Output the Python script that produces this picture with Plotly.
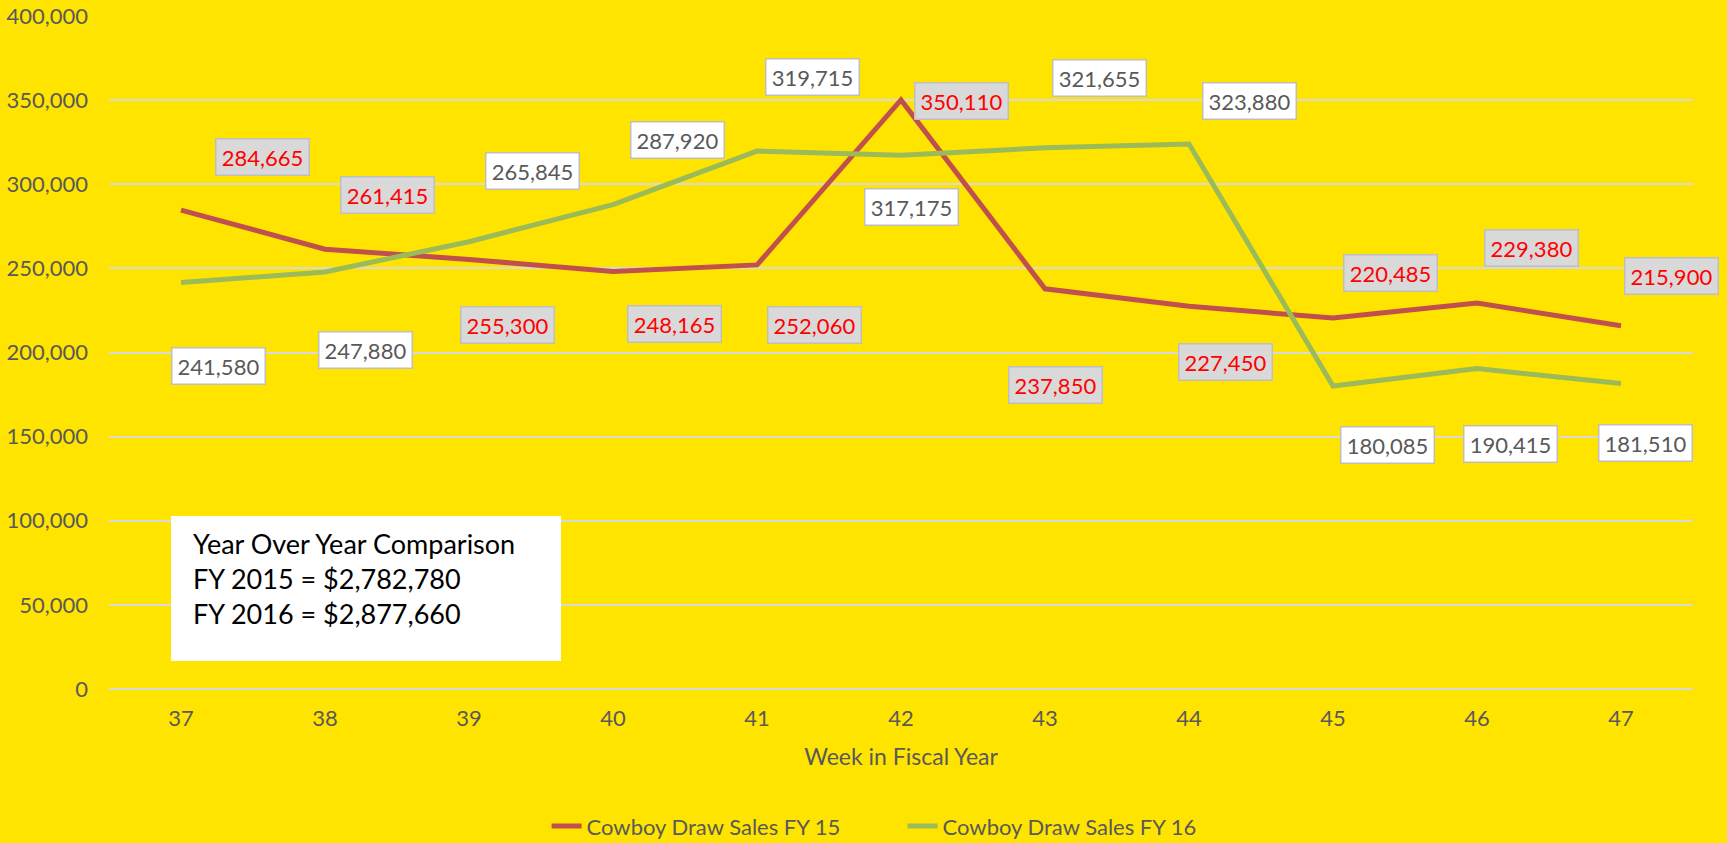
import plotly.graph_objects as go

weeks = [37, 38, 39, 40, 41, 42, 43, 44, 45, 46, 47]
fy15 = [284665, 261415, 255300, 248165, 252060, 350110, 237850, 227450, 220485, 229380, 215900]
fy16 = [241580, 247880, 265845, 287920, 319715, 317175, 321655, 323880, 180085, 190415, 181510]
series_names = ["Cowboy Draw Sales FY 15", "Cowboy Draw Sales FY 16"]
y_ticks = [0, 50000, 100000, 150000, 200000, 250000, 300000, 350000, 400000]
summary_lines = ["Year Over Year Comparison", "FY 2015 = $2,782,780", "FY 2016 = $2,877,660"]

# label offsets in pixels (dx right, dy down) relative to each point
off15 = [(81, -53), (62, -54), (38, 66), (61, 53), (57, 60), (60, 1), (10, 96), (36, 56), (57, -45), (54, -55), (50, -50)]
off16 = [(37, 83), (40, 78), (63, -71), (64, -65), (55, -74), (10, 52), (54, -70), (60, -43), (54, 59), (33, 75), (24, 59)]

FONT = "Lato"
GRAY = "#595959"
RED = "#C0504D"
GREEN = "#9BBB59"

fig = go.Figure()
fig.add_trace(go.Scatter(x=weeks, y=fy15, mode="lines", name=series_names[0],
                         line=dict(color=RED, width=5)))
fig.add_trace(go.Scatter(x=weeks, y=fy16, mode="lines", name=series_names[1],
                         line=dict(color=GREEN, width=5)))

annotations = []
for w, v, (dx, dy) in zip(weeks, fy15, off15):
    annotations.append(dict(x=w, y=v, xref="x", yref="y", text=f"{v:,}", showarrow=False,
                            xshift=dx, yshift=-dy, font=dict(family=FONT, size=22, color="#FF0000"),
                            bgcolor="#D9D9D9", bordercolor="#BFBFBF", borderwidth=1.5, borderpad=4,
                            width=84))
for w, v, (dx, dy) in zip(weeks, fy16, off16):
    annotations.append(dict(x=w, y=v, xref="x", yref="y", text=f"{v:,}", showarrow=False,
                            xshift=dx, yshift=-dy, font=dict(family=FONT, size=22, color=GRAY),
                            bgcolor="#FFFFFF", bordercolor="#BFBFBF", borderwidth=1.5, borderpad=4,
                            width=84))
annotations.append(dict(x=0.0518, y=0.2435, xref="paper", yref="paper", xanchor="left", yanchor="top",
                        text="<br>".join(summary_lines), showarrow=False, align="left",
                        font=dict(family=FONT, size=27, color="#000000")))

fig.update_layout(
    width=1727, height=843,
    margin=dict(l=109, r=34, t=16, b=154),
    paper_bgcolor="#FFE400", plot_bgcolor="#FFE400",
    font=dict(family=FONT, size=22, color=GRAY),
    showlegend=True,
    legend=dict(orientation="h", x=0.501, xanchor="center", yref="container", y=0.02, yanchor="middle",
                entrywidth=311, entrywidthmode="pixels",
                font=dict(family=FONT, size=22, color=GRAY), bgcolor="rgba(0,0,0,0)"),
    annotations=annotations,
    shapes=[dict(type="rect", xref="paper", yref="paper", x0=0.0391, x1=0.2854, y0=0.0416, y1=0.2571,
                 fillcolor="#FFFFFF", line=dict(width=0), layer="above")],
    xaxis=dict(range=[36.5, 47.5], tickmode="array", tickvals=weeks, ticktext=[str(w) for w in weeks],
               showgrid=False, zeroline=False, showline=False, ticks="", automargin=False,
               ticklabelstandoff=14, tickfont=dict(family=FONT, size=22, color=GRAY),
               title=dict(text="Week in Fiscal Year", font=dict(family=FONT, size=23, color=GRAY), standoff=18)),
    yaxis=dict(range=[0, 400000], tickmode="array", tickvals=y_ticks,
               ticktext=[f"{t:,}" for t in y_ticks], automargin=False,
               showgrid=True, gridcolor="#D9D9D9", gridwidth=2,
               zeroline=True, zerolinecolor="#D9D9D9", zerolinewidth=2,
               showline=False, ticks="", ticklabelstandoff=20,
               tickfont=dict(family=FONT, size=22, color=GRAY)),
)

fig.write_html("out.html", config={"displayModeBar": False},
               post_script="document.body.style.margin='0';document.body.style.overflow='hidden';")
